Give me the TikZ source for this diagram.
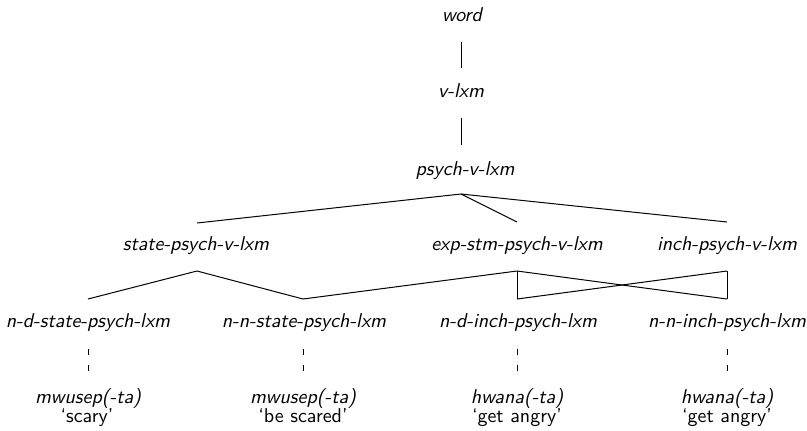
\documentclass[tikz,border=0pt]{standalone}
\begin{document}
\begin{tikzpicture}[x=0.5pt,y=-0.5pt,
  type/.style={anchor=base,inner sep=0pt,font=\sffamily\itshape\fontsize{10}{12}\selectfont},
  gloss/.style={anchor=base,inner sep=0pt,font=\sffamily\fontsize{10}{12}\selectfont},
  link/.style={line width=0.5pt},
  inst/.style={line width=0.5pt,dash pattern=on 3pt off 5pt}]
\useasboundingbox (0,0) rectangle (807,430);

% type hierarchy
\node[type] (word)   at (462,21.5) {word};
\node[type] (vlxm)   at (461,97)   {v-lxm};
\node[type] (psych)  at (465,175)  {psych-v-lxm};
\node[type] (state)  at (196,250)  {state-psych-v-lxm};
\node[type] (expstm) at (517,250)  {exp-stm-psych-v-lxm};
\node[type] (inch)   at (727,250)  {inch-psych-v-lxm};
\node[type] (ndst)   at (88,327)   {n-d-state-psych-lxm};
\node[type] (nnst)   at (304,327)  {n-n-state-psych-lxm};
\node[type] (ndin)   at (518,327)  {n-d-inch-psych-lxm};
\node[type] (nnin)   at (727,327)  {n-n-inch-psych-lxm};

% lexical entries and glosses
\node[type]  (lx1) at (88,403)  {mwusep(-ta)};
\node[type]  (lx2) at (303,403) {mwusep(-ta)};
\node[type]  (lx3) at (517,403) {hwana(-ta)};
\node[type]  (lx4) at (727,403) {hwana(-ta)};
\node[gloss] (gl1) at (87,422)  {`scary'};
\node[gloss] (gl2) at (303,422) {`be scared'};
\node[gloss] (gl3) at (517,422) {`get angry'};
\node[gloss] (gl4) at (727,422) {`get angry'};

% trunk (kept vertical at x = 461)
\draw[link] ([xshift=-0.5pt,yshift=-10.25pt]word.base) -- ([yshift=14.5pt]vlxm.base);
\draw[link] ([yshift=-10.5pt]vlxm.base) -- ([xshift=-2pt,yshift=15pt]psych.base);

% psych-v-lxm subtypes
\draw[link] ([xshift=-2pt,yshift=-9.5pt]psych.base) -- ([xshift=0.5pt,yshift=13.5pt]state.base);
\draw[link] ([xshift=-2pt,yshift=-9.5pt]psych.base) -- ([yshift=14pt]expstm.base);
\draw[link] ([xshift=-2pt,yshift=-9.5pt]psych.base) -- ([yshift=14pt]inch.base);

% leaf types
\draw[link] ([xshift=0.5pt,yshift=-10.5pt]state.base) -- ([yshift=14pt]ndst.base);
\draw[link] ([xshift=0.5pt,yshift=-10.5pt]state.base) -- ([xshift=-0.5pt,yshift=14pt]nnst.base);
\draw[link] ([yshift=-10.5pt]expstm.base) -- ([xshift=-0.5pt,yshift=14pt]nnst.base);
\draw[link] ([yshift=-10.5pt]expstm.base) -- ([xshift=-0.5pt,yshift=14pt]ndin.base);
\draw[link] ([yshift=-10.5pt]expstm.base) -- ([yshift=14pt]nnin.base);
\draw[link] ([yshift=-10.5pt]inch.base) -- ([yshift=14pt]nnin.base);
\draw[link] ([yshift=-10.5pt]inch.base) -- ([xshift=-0.5pt,yshift=14pt]ndin.base);

% instances
\draw[inst] ([yshift=-11pt]ndst.base) -- ([yshift=16pt]lx1.base);
\draw[inst] ([xshift=-0.5pt,yshift=-11pt]nnst.base) -- ([yshift=16pt]lx2.base);
\draw[inst] ([xshift=-0.5pt,yshift=-11pt]ndin.base) -- ([yshift=16pt]lx3.base);
\draw[inst] ([yshift=-11pt]nnin.base) -- ([yshift=16pt]lx4.base);
\end{tikzpicture}
\end{document}
